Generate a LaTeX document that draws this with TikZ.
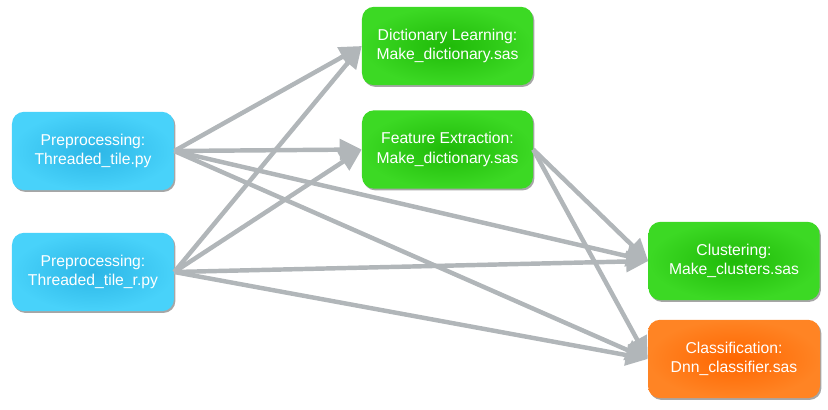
\documentclass[tikz,border=0pt]{standalone}
\usepackage{fontspec}
\setmainfont{Liberation Sans}
\usetikzlibrary{arrows.meta,shadows}
\definecolor{blueout}{HTML}{48D2FA}
\definecolor{bluein}{HTML}{2CB6E6}
\definecolor{greenout}{HTML}{3CD924}
\definecolor{greenin}{HTML}{1FBA08}
\definecolor{orangeout}{HTML}{FF8424}
\definecolor{orangein}{HTML}{FF6600}
\definecolor{linkgray}{HTML}{B1B6B9}
\tikzset{
  box/.style={rounded corners=0.36cm, minimum height=2.35cm, align=center,
    text=white, font=\fontsize{13.4}{16.5}\selectfont,
    drop shadow={shadow xshift=1.2pt, shadow yshift=-1.5pt, fill=black, opacity=0.35}},
  prepbox/.style={box, minimum width=4.86cm, inner color=bluein, outer color=blueout},
  sasbox/.style={box, minimum width=5.13cm, inner color=greenin, outer color=greenout},
  endbox/.style={box, minimum width=5.16cm, inner color=orangein, outer color=orangeout},
  link/.style={draw=linkgray, line width=3.8pt, -{Triangle[length=0.66cm,width=0.62cm]}}
}
\begin{document}
\begin{tikzpicture}[x=0.03cm, y=-0.03cm]
      \useasboundingbox (0,0) rectangle (828,409);
      \node[prepbox] (pre) at (93,151) {Preprocessing:\\Threaded\_tile.py};
      \node[prepbox] (prer) at (93,272) {Preprocessing:\\Threaded\_tile\_r.py};
      \node[sasbox] (dict) at (447.5,46) {Dictionary Learning:\\Make\_dictionary.sas};
      \node[sasbox] (feat) at (447.5,149.5) {Feature Extraction:\\Make\_dictionary.sas};
      \node[sasbox] (clust) at (734,261) {Clustering:\\Make\_clusters.sas};
      \node[endbox] (class) at (734,359) {Classification:\\Dnn\_classifier.sas};
      \begin{scope}[link]
        \draw (pre.east) to (dict.west);
        \draw (pre.east) to (feat.west);
        \draw (pre.east) to (clust.west);
        \draw (pre.east) to (class.west);
        \draw (prer.east) to (dict.west);
        \draw (prer.east) to (feat.west);
        \draw (prer.east) to (clust.west);
        \draw (prer.east) to (class.west);
        \draw (feat.east) to (clust.west);
        \draw (feat.east) to (class.west);
      \end{scope}
    \end{tikzpicture}
\end{document}
